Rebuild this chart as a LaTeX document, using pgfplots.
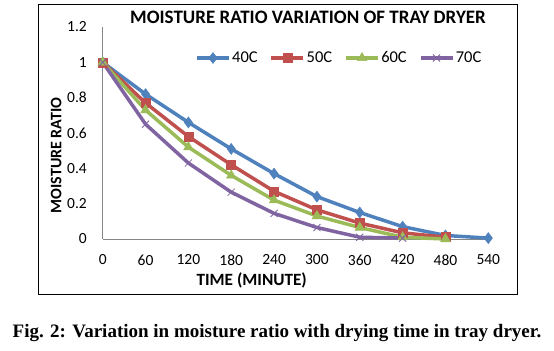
\documentclass[border=0pt]{standalone}
\usepackage{fontspec}
\setmainfont{Carlito}
\newfontfamily\capfont{Liberation Serif}
\usepackage{pgfplots}
\pgfplotsset{compat=1.18}
\definecolor{c40}{HTML}{4F81BD}
\definecolor{c50}{HTML}{C0504D}
\definecolor{c60}{HTML}{9BBB59}
\definecolor{c70}{HTML}{8064A2}
\definecolor{axgray}{HTML}{868686}
\begin{document}
\begin{tikzpicture}
\useasboundingbox (-102.7bp,-112bp) rectangle (451.3bp,239bp);
\begin{axis}[
  scale only axis, width=385.6bp, height=212bp,
  at={(0,0)}, anchor=south west,
  xmin=0, xmax=540, ymin=0, ymax=1.2,
  clip=false,
  axis x line*=bottom, axis y line*=left,
  axis line style={draw=axgray, line width=0.8bp},
  tick style={draw=none},
  xtick={0,60,120,180,240,300,360,420,480,540},
  xticklabels={0,60,120,180,240,300,360,420,480,540},
  ytick={0,0.2,0.4,0.6,0.8,1,1.2},
  yticklabels={0,0.2,0.4,0.6,0.8,1,1.2},
  xticklabel style={anchor=center, inner sep=0pt, yshift=-21bp, font=\fontsize{15.5bp}{18bp}\selectfont},
  yticklabel style={anchor=east, inner sep=0pt, xshift=-15.7bp, font=\fontsize{15.5bp}{18bp}\selectfont},
  legend columns=4,
  legend style={at={(0.2394,0.8538)}, anchor=west, draw=none, fill=none, inner sep=0pt,
    font=\fontsize{16.5bp}{19bp}\selectfont,
    nodes={inner sep=1.5bp},
    /tikz/every even column/.append style={column sep=10.5bp}},
  legend image code/.code={\draw[mark repeat=2,mark phase=2,#1] plot coordinates {(0bp,0bp) (16bp,0bp) (32bp,0bp)};},
  every axis plot/.append style={line width=3.5bp},
]
\addplot[c40, mark=diamond*, mark size=5.5bp, mark options={solid, fill=c40, draw=c40, line width=0.5bp}] coordinates {
(0,1) (60,0.82) (120,0.66) (180,0.51) (240,0.37) (300,0.24) (360,0.15) (420,0.07) (480,0.02) (540,0.005)};
\addlegendentry{40C}
\addplot[c50, mark=square*, mark size=4.5bp, mark options={solid, fill=c50, draw=c50, line width=0.5bp}] coordinates {
(0,1) (60,0.77) (120,0.58) (180,0.42) (240,0.27) (300,0.165) (360,0.09) (420,0.035) (480,0.01)};
\addlegendentry{50C}
\addplot[c60, mark=triangle*, mark size=5.5bp, mark options={solid, fill=c60, draw=c60, line width=0.5bp}] coordinates {
(0,1) (60,0.73) (120,0.52) (180,0.36) (240,0.22) (300,0.13) (360,0.065) (420,0.01) (480,0)};
\addlegendentry{60C}
\addplot[c70, mark=x, mark size=5bp, mark options={solid, draw=c70, line width=0.8bp}] coordinates {
(0,1) (60,0.65) (120,0.43) (180,0.265) (240,0.145) (300,0.065) (360,0.01) (420,0.005)};
\addlegendentry{70C}
\end{axis}
\draw[line width=1bp] (-64.4bp,-55.3bp) rectangle (414.6bp,234.3bp);
\node[font=\fontsize{19bp}{22bp}\selectfont\bfseries] at (205.3bp,221.2bp) {MOISTURE RATIO VARIATION OF TRAY DRYER};
\node[rotate=90, inner sep=0pt, font=\fontsize{16bp}{19bp}\selectfont\bfseries] at (-46.5bp,83.5bp) {MOISTURE RATIO};
\node[font=\fontsize{17.2bp}{20bp}\selectfont\bfseries] at (149bp,-41bp) {TIME (MINUTE)};
\node[font=\capfont\fontsize{19bp}{22bp}\selectfont\bfseries] at (174.3bp,-93.7bp) {Fig. 2: Variation in moisture ratio with drying time in tray dryer.};
\end{tikzpicture}
\end{document}
